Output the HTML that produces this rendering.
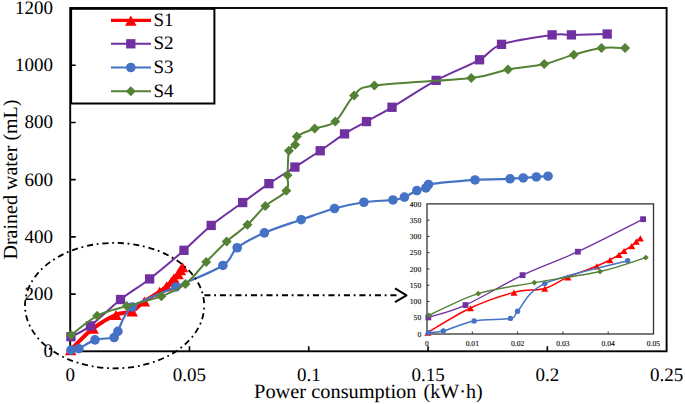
<!DOCTYPE html>
<html><head><meta charset="utf-8"><style>
html,body{margin:0;padding:0;background:#fff;}
body{width:685px;height:404px;overflow:hidden;}
svg{display:block;}
text{font-family:"Liberation Serif",serif;fill:#000;text-rendering:geometricPrecision;}
</style></head><body>
<svg width="685" height="404" viewBox="0 0 685 404">
<rect x="0" y="0" width="685" height="404" fill="#fff"/>

<rect x="70.2" y="8" width="596.4" height="343.3" fill="none" stroke="#000" stroke-width="1.9"/>
<path d="M70.2 294.08H75.7M70.2 236.87H75.7M70.2 179.65H75.7M70.2 122.43H75.7M70.2 65.22H75.7M189.48 351.3V346.3M308.76 351.3V346.3M428.04 351.3V346.3M547.32 351.3V346.3" stroke="#000" stroke-width="1.6" fill="none"/>
<text x="52.9" y="357.2" font-size="19" text-anchor="end">0</text>
<text x="52.9" y="299.98" font-size="19" text-anchor="end">200</text>
<text x="52.9" y="242.77" font-size="19" text-anchor="end">400</text>
<text x="52.9" y="185.55" font-size="19" text-anchor="end">600</text>
<text x="52.9" y="128.33" font-size="19" text-anchor="end">800</text>
<text x="52.9" y="71.12" font-size="19" text-anchor="end">1000</text>
<text x="52.9" y="13.9" font-size="19" text-anchor="end">1200</text>
<text x="70.2" y="380.7" font-size="19" text-anchor="middle">0</text>
<text x="189.48" y="380.7" font-size="19" text-anchor="middle">0.05</text>
<text x="308.76" y="380.7" font-size="19" text-anchor="middle">0.1</text>
<text x="428.04" y="380.7" font-size="19" text-anchor="middle">0.15</text>
<text x="547.32" y="380.7" font-size="19" text-anchor="middle">0.2</text>
<text x="666.6" y="380.7" font-size="19" text-anchor="middle">0.25</text>
<text x="254.1" y="397.6" font-size="20.3" textLength="162.4" lengthAdjust="spacingAndGlyphs">Power consumption</text>
<text x="423.6" y="397.6" font-size="20.3" textLength="59" lengthAdjust="spacingAndGlyphs">(kW&#183;h)</text>
<text transform="translate(17,259.5) rotate(-90)" x="0" y="0" font-size="20" textLength="160" lengthAdjust="spacingAndGlyphs">Drained water (mL)</text>
<path d="M70.68 349.87C74.41 346.29 85.55 334.28 93.1 328.41C100.66 322.55 109.48 317.54 116 314.68C122.52 311.82 127.49 313.49 132.23 311.25C136.96 309.01 139.82 304.53 144.39 301.24C148.96 297.95 155.96 294.04 159.66 291.51C163.36 288.98 164.63 287.74 166.58 286.07C168.53 284.4 170.12 282.83 171.35 281.5C172.58 280.16 172.86 279.35 173.97 278.06C175.09 276.78 176.96 275.15 178.03 273.77C179.1 272.39 179.66 270.91 180.41 269.77C181.17 268.62 182.2 267.38 182.56 266.91" fill="none" stroke="#FF0000" stroke-width="3.9" stroke-linejoin="round" stroke-linecap="round"/>
<path d="M70.68 345.11L76.43 355.23L64.93 355.23Z" fill="#FF0000"/>
<path d="M93.1 323.65L98.85 333.77L87.35 333.77Z" fill="#FF0000"/>
<path d="M116 309.92L121.75 320.04L110.25 320.04Z" fill="#FF0000"/>
<path d="M132.23 306.49L137.98 316.61L126.48 316.61Z" fill="#FF0000"/>
<path d="M144.39 296.48L150.14 306.6L138.64 306.6Z" fill="#FF0000"/>
<path d="M159.66 286.75L165.41 296.87L153.91 296.87Z" fill="#FF0000"/>
<path d="M166.58 281.31L172.33 291.43L160.83 291.43Z" fill="#FF0000"/>
<path d="M171.35 276.74L177.1 286.86L165.6 286.86Z" fill="#FF0000"/>
<path d="M173.97 273.3L179.72 283.42L168.22 283.42Z" fill="#FF0000"/>
<path d="M178.03 269.01L183.78 279.13L172.28 279.13Z" fill="#FF0000"/>
<path d="M180.41 265.01L186.16 275.13L174.66 275.13Z" fill="#FF0000"/>
<path d="M182.56 262.15L188.31 272.27L176.81 272.27Z" fill="#FF0000"/>
<path d="M70.92 336.71C74.18 334.9 82.21 332.04 90.48 325.84C98.75 319.64 110.68 307.34 120.54 299.52C130.4 291.7 139.06 287.12 149.64 278.92C160.22 270.72 173.74 259.23 183.99 250.31C194.25 241.4 201.41 233.39 211.19 225.42C220.97 217.46 233.06 209.5 242.68 202.54C252.3 195.58 260.21 189.57 268.92 183.66C277.63 177.74 286.38 172.55 294.92 167.06C303.47 161.58 311.94 156.29 320.21 150.76C328.48 145.22 336.83 138.74 344.54 133.88C352.26 129.01 358.58 126.01 366.49 121.58C374.4 117.14 380.41 114.14 392.02 107.27C403.63 100.4 421.56 88.29 436.15 80.38C450.74 72.46 468.67 65.79 479.57 59.78C490.46 53.77 489.43 48.48 501.52 44.33C513.6 40.18 540.44 36.47 552.09 34.89C563.74 33.32 562.23 35.03 571.41 34.89C580.6 34.75 601.23 34.18 607.2 34.03" fill="none" stroke="#7030A0" stroke-width="2.0" stroke-linejoin="round" stroke-linecap="round"/>
<rect x="66.27" y="332.06" width="9.3" height="9.3" fill="#7030A0"/>
<rect x="85.83" y="321.19" width="9.3" height="9.3" fill="#7030A0"/>
<rect x="115.89" y="294.87" width="9.3" height="9.3" fill="#7030A0"/>
<rect x="144.99" y="274.27" width="9.3" height="9.3" fill="#7030A0"/>
<rect x="179.34" y="245.66" width="9.3" height="9.3" fill="#7030A0"/>
<rect x="206.54" y="220.77" width="9.3" height="9.3" fill="#7030A0"/>
<rect x="238.03" y="197.89" width="9.3" height="9.3" fill="#7030A0"/>
<rect x="264.27" y="179.01" width="9.3" height="9.3" fill="#7030A0"/>
<rect x="290.27" y="162.41" width="9.3" height="9.3" fill="#7030A0"/>
<rect x="315.56" y="146.11" width="9.3" height="9.3" fill="#7030A0"/>
<rect x="339.89" y="129.23" width="9.3" height="9.3" fill="#7030A0"/>
<rect x="361.84" y="116.93" width="9.3" height="9.3" fill="#7030A0"/>
<rect x="387.37" y="102.62" width="9.3" height="9.3" fill="#7030A0"/>
<rect x="431.5" y="75.73" width="9.3" height="9.3" fill="#7030A0"/>
<rect x="474.92" y="55.13" width="9.3" height="9.3" fill="#7030A0"/>
<rect x="496.87" y="39.68" width="9.3" height="9.3" fill="#7030A0"/>
<rect x="547.44" y="30.24" width="9.3" height="9.3" fill="#7030A0"/>
<rect x="566.76" y="30.24" width="9.3" height="9.3" fill="#7030A0"/>
<rect x="602.55" y="29.38" width="9.3" height="9.3" fill="#7030A0"/>
<path d="M70.92 350.16C72.23 349.92 74.77 350.44 78.79 348.73C82.8 347.01 89.13 341.72 95.01 339.86C100.89 338 110.28 339 114.1 337.57C117.91 336.14 114.89 336.38 117.91 331.27C120.93 326.17 122.56 314.35 132.23 306.96C141.89 299.57 160.77 293.84 175.88 286.93C190.99 280.02 212.66 272.01 222.88 265.48C233.1 258.94 230.27 253.17 237.19 247.74C244.11 242.3 253.73 237.53 264.39 232.86C275.04 228.19 289.44 223.75 301.13 219.7C312.82 215.65 324.07 211.45 334.52 208.54C344.98 205.64 354.13 203.68 363.87 202.25C373.61 200.82 386.21 200.82 392.97 199.96C399.73 199.1 400.45 198.67 404.42 197.1C408.4 195.53 413.25 192.05 416.83 190.52C420.41 189 423.94 188.95 425.89 187.95C427.84 186.95 420.33 185.85 428.52 184.51C436.71 183.18 461.44 180.89 475.04 179.94C488.63 178.98 502.07 179.13 510.1 178.79C518.14 178.46 518.85 178.24 523.23 177.93C527.6 177.62 532.21 177.22 536.35 176.93C540.48 176.65 546.09 176.34 548.04 176.22" fill="none" stroke="#4472C4" stroke-width="2.2" stroke-linejoin="round" stroke-linecap="round"/>
<circle cx="70.92" cy="350.16" r="4.8" fill="#4472C4"/>
<circle cx="78.79" cy="348.73" r="4.8" fill="#4472C4"/>
<circle cx="95.01" cy="339.86" r="4.8" fill="#4472C4"/>
<circle cx="114.1" cy="337.57" r="4.8" fill="#4472C4"/>
<circle cx="117.91" cy="331.27" r="4.8" fill="#4472C4"/>
<circle cx="132.23" cy="306.96" r="4.8" fill="#4472C4"/>
<circle cx="175.88" cy="286.93" r="4.8" fill="#4472C4"/>
<circle cx="222.88" cy="265.48" r="4.8" fill="#4472C4"/>
<circle cx="237.19" cy="247.74" r="4.8" fill="#4472C4"/>
<circle cx="264.39" cy="232.86" r="4.8" fill="#4472C4"/>
<circle cx="301.13" cy="219.7" r="4.8" fill="#4472C4"/>
<circle cx="334.52" cy="208.54" r="4.8" fill="#4472C4"/>
<circle cx="363.87" cy="202.25" r="4.8" fill="#4472C4"/>
<circle cx="392.97" cy="199.96" r="4.8" fill="#4472C4"/>
<circle cx="404.42" cy="197.1" r="4.8" fill="#4472C4"/>
<circle cx="416.83" cy="190.52" r="4.8" fill="#4472C4"/>
<circle cx="425.89" cy="187.95" r="4.8" fill="#4472C4"/>
<circle cx="428.52" cy="184.51" r="4.8" fill="#4472C4"/>
<circle cx="475.04" cy="179.94" r="4.8" fill="#4472C4"/>
<circle cx="510.1" cy="178.79" r="4.8" fill="#4472C4"/>
<circle cx="523.23" cy="177.93" r="4.8" fill="#4472C4"/>
<circle cx="536.35" cy="176.93" r="4.8" fill="#4472C4"/>
<circle cx="548.04" cy="176.22" r="4.8" fill="#4472C4"/>
<path d="M71.15 334.99C75.49 331.8 87.89 320.64 97.16 315.83C106.42 311.01 116.04 309.34 126.74 306.1C137.43 302.86 151.55 300.04 161.33 296.37C171.11 292.7 177.95 289.79 185.42 284.07C192.9 278.35 199.3 269.15 206.18 262.04C213.06 254.94 219.82 247.64 226.7 241.44C233.57 235.25 241.01 230.76 247.45 224.85C253.89 218.94 258.86 211.64 265.34 205.97C271.82 200.3 282.64 195.91 286.34 190.81C290.03 185.71 287.09 182.03 287.53 175.36C287.97 168.68 287.69 155.86 288.96 150.76C290.23 145.65 293.85 147.13 295.16 144.75C296.47 142.36 293.57 139.17 296.83 136.45C300.09 133.73 308.32 130.92 314.72 128.44C321.13 125.96 328.68 127.06 335.24 121.58C341.8 116.09 347.57 101.55 354.09 95.54C360.61 89.53 354.84 88.44 374.36 85.53C393.89 82.62 448.95 80.76 471.22 78.09C493.48 75.42 495.79 71.84 507.96 69.51C520.12 67.17 533.24 66.55 544.22 64.07C555.19 61.59 564.26 57.3 573.8 54.63C583.34 51.96 592.92 49.15 601.47 48.05C610.02 46.96 621.15 48.05 625.09 48.05" fill="none" stroke="#548235" stroke-width="2.0" stroke-linejoin="round" stroke-linecap="round"/>
<path d="M71.15 329.99L76.15 334.99L71.15 339.99L66.15 334.99Z" fill="#548235"/>
<path d="M97.16 310.83L102.16 315.83L97.16 320.83L92.16 315.83Z" fill="#548235"/>
<path d="M126.74 301.1L131.74 306.1L126.74 311.1L121.74 306.1Z" fill="#548235"/>
<path d="M161.33 291.37L166.33 296.37L161.33 301.37L156.33 296.37Z" fill="#548235"/>
<path d="M185.42 279.07L190.42 284.07L185.42 289.07L180.42 284.07Z" fill="#548235"/>
<path d="M206.18 257.04L211.18 262.04L206.18 267.04L201.18 262.04Z" fill="#548235"/>
<path d="M226.7 236.44L231.7 241.44L226.7 246.44L221.7 241.44Z" fill="#548235"/>
<path d="M247.45 219.85L252.45 224.85L247.45 229.85L242.45 224.85Z" fill="#548235"/>
<path d="M265.34 200.97L270.34 205.97L265.34 210.97L260.34 205.97Z" fill="#548235"/>
<path d="M286.34 185.81L291.34 190.81L286.34 195.81L281.34 190.81Z" fill="#548235"/>
<path d="M287.53 170.36L292.53 175.36L287.53 180.36L282.53 175.36Z" fill="#548235"/>
<path d="M288.96 145.76L293.96 150.76L288.96 155.76L283.96 150.76Z" fill="#548235"/>
<path d="M295.16 139.75L300.16 144.75L295.16 149.75L290.16 144.75Z" fill="#548235"/>
<path d="M296.83 131.45L301.83 136.45L296.83 141.45L291.83 136.45Z" fill="#548235"/>
<path d="M314.72 123.44L319.72 128.44L314.72 133.44L309.72 128.44Z" fill="#548235"/>
<path d="M335.24 116.58L340.24 121.58L335.24 126.58L330.24 121.58Z" fill="#548235"/>
<path d="M354.09 90.54L359.09 95.54L354.09 100.54L349.09 95.54Z" fill="#548235"/>
<path d="M374.36 80.53L379.36 85.53L374.36 90.53L369.36 85.53Z" fill="#548235"/>
<path d="M471.22 73.09L476.22 78.09L471.22 83.09L466.22 78.09Z" fill="#548235"/>
<path d="M507.96 64.51L512.96 69.51L507.96 74.51L502.96 69.51Z" fill="#548235"/>
<path d="M544.22 59.07L549.22 64.07L544.22 69.07L539.22 64.07Z" fill="#548235"/>
<path d="M573.8 49.63L578.8 54.63L573.8 59.63L568.8 54.63Z" fill="#548235"/>
<path d="M601.47 43.05L606.47 48.05L601.47 53.05L596.47 48.05Z" fill="#548235"/>
<path d="M625.09 43.05L630.09 48.05L625.09 53.05L620.09 48.05Z" fill="#548235"/>
<rect x="71.1" y="8.8" width="143.3" height="94.7" fill="none" stroke="#000" stroke-width="2"/>
<path d="M111 20.3H151" stroke="#FF0000" stroke-width="3.2"/>
<path d="M130.8 15.54L136.55 25.66L125.05 25.66Z" fill="#FF0000"/>
<path d="M111 43.8H151" stroke="#7030A0" stroke-width="1.9"/>
<rect x="126.15" y="39.15" width="9.3" height="9.3" fill="#7030A0"/>
<path d="M111 67.5H151" stroke="#4472C4" stroke-width="1.9"/>
<circle cx="130.8" cy="67.5" r="4.8" fill="#4472C4"/>
<path d="M111 91.3H151" stroke="#548235" stroke-width="1.9"/>
<path d="M130.8 86.3L135.8 91.3L130.8 96.3L125.8 91.3Z" fill="#548235"/>
<text x="153.5" y="25.9" font-size="19" >S1</text>
<text x="153.5" y="49.4" font-size="19" >S2</text>
<text x="153.5" y="73.1" font-size="19" >S3</text>
<text x="153.5" y="96.9" font-size="19" >S4</text>
<ellipse cx="114.6" cy="305.6" rx="89.6" ry="62.7" fill="none" stroke="#000" stroke-width="1.8" stroke-dasharray="6.1 3.7 1.8 3.9" stroke-dashoffset="7.7"/>
<path d="M204.4 295.3H397" stroke="#000" stroke-width="2" stroke-dasharray="6.1 3.7 1.8 3.9"/>
<path d="M395 288.4L406.5 295.3L395 302.1" fill="none" stroke="#000" stroke-width="2" stroke-linejoin="round"/>
<rect x="427" y="203.9" width="226.5" height="130.1" fill="none" stroke="#333" stroke-width="1.3"/>
<path d="M427 317.74H429.5M427 301.48H429.5M427 285.21H429.5M427 268.95H429.5M427 252.69H429.5M427 236.43H429.5M427 220.16H429.5M472.3 334V331.5M517.6 334V331.5M562.9 334V331.5M608.2 334V331.5" stroke="#333" stroke-width="1" fill="none"/>
<path d="M427.91 332.37C435 328.31 456.14 314.65 470.49 307.98C484.83 301.31 501.59 295.62 513.98 292.37C526.36 289.12 535.8 291.01 544.78 288.47C553.76 285.92 559.2 280.82 567.88 277.08C576.57 273.34 589.85 268.9 596.88 266.02C603.9 263.15 606.31 261.74 610.01 259.84C613.71 257.95 616.73 256.16 619.07 254.64C621.41 253.12 621.94 252.2 624.05 250.74C626.17 249.27 629.72 247.43 631.76 245.86C633.79 244.29 634.85 242.6 636.29 241.3C637.72 240 639.68 238.59 640.36 238.05" fill="none" stroke="#FF0000" stroke-width="1.5" stroke-linejoin="round" stroke-linecap="round"/>
<path d="M427.91 329.59L431.41 335.75L424.41 335.75Z" fill="#FF0000"/>
<path d="M470.49 305.2L473.99 311.36L466.99 311.36Z" fill="#FF0000"/>
<path d="M513.98 289.59L517.48 295.75L510.48 295.75Z" fill="#FF0000"/>
<path d="M544.78 285.69L548.28 291.85L541.28 291.85Z" fill="#FF0000"/>
<path d="M567.88 274.3L571.38 280.46L564.38 280.46Z" fill="#FF0000"/>
<path d="M596.88 263.24L600.38 269.4L593.38 269.4Z" fill="#FF0000"/>
<path d="M610.01 257.06L613.51 263.22L606.51 263.22Z" fill="#FF0000"/>
<path d="M619.07 251.86L622.57 258.02L615.57 258.02Z" fill="#FF0000"/>
<path d="M624.05 247.96L627.55 254.12L620.55 254.12Z" fill="#FF0000"/>
<path d="M631.76 243.08L635.26 249.24L628.26 249.24Z" fill="#FF0000"/>
<path d="M636.29 238.52L639.79 244.68L632.79 244.68Z" fill="#FF0000"/>
<path d="M640.36 235.27L643.86 241.43L636.86 241.43Z" fill="#FF0000"/>
<path d="M428.36 317.41C434.55 315.35 449.8 312.1 465.5 305.05C481.21 298.01 503.86 284.02 522.58 275.13C541.31 266.24 557.77 261.04 577.85 251.71C597.93 242.39 632.21 224.61 643.08 219.19" fill="none" stroke="#7030A0" stroke-width="1.3" stroke-linejoin="round" stroke-linecap="round"/>
<rect x="425.46" y="314.51" width="5.8" height="5.8" fill="#7030A0"/>
<rect x="462.61" y="302.15" width="5.8" height="5.8" fill="#7030A0"/>
<rect x="519.68" y="272.23" width="5.8" height="5.8" fill="#7030A0"/>
<rect x="574.95" y="248.81" width="5.8" height="5.8" fill="#7030A0"/>
<rect x="640.18" y="216.29" width="5.8" height="5.8" fill="#7030A0"/>
<path d="M428.36 332.7C430.85 332.43 435.68 333.02 443.31 331.07C450.93 329.12 462.94 323.1 474.11 320.99C485.29 318.88 503.1 320.01 510.35 318.39C517.6 316.76 511.86 317.03 517.6 311.23C523.34 305.43 526.43 291.99 544.78 283.59C563.13 275.18 613.86 264.61 627.68 260.82" fill="none" stroke="#4472C4" stroke-width="1.5" stroke-linejoin="round" stroke-linecap="round"/>
<circle cx="428.36" cy="332.7" r="2.7" fill="#4472C4"/>
<circle cx="443.31" cy="331.07" r="2.7" fill="#4472C4"/>
<circle cx="474.11" cy="320.99" r="2.7" fill="#4472C4"/>
<circle cx="510.35" cy="318.39" r="2.7" fill="#4472C4"/>
<circle cx="517.6" cy="311.23" r="2.7" fill="#4472C4"/>
<circle cx="544.78" cy="283.59" r="2.7" fill="#4472C4"/>
<circle cx="627.68" cy="260.82" r="2.7" fill="#4472C4"/>
<path d="M428.81 315.46C437.04 311.83 460.6 299.14 478.19 293.67C495.78 288.19 514.05 286.3 534.36 282.61C554.67 278.92 581.47 275.73 600.05 271.55C618.62 267.38 638.17 259.9 645.8 257.57" fill="none" stroke="#548235" stroke-width="1.4" stroke-linejoin="round" stroke-linecap="round"/>
<path d="M428.81 312.56L431.71 315.46L428.81 318.36L425.91 315.46Z" fill="#548235"/>
<path d="M478.19 290.77L481.09 293.67L478.19 296.57L475.29 293.67Z" fill="#548235"/>
<path d="M534.36 279.71L537.26 282.61L534.36 285.51L531.46 282.61Z" fill="#548235"/>
<path d="M600.05 268.65L602.95 271.55L600.05 274.45L597.15 271.55Z" fill="#548235"/>
<path d="M645.8 254.67L648.7 257.57L645.8 260.47L642.9 257.57Z" fill="#548235"/>
<text x="421.2" y="336.6" font-size="7.6" text-anchor="end" stroke="#000" stroke-width="0.1">0</text>
<text x="421.2" y="320.34" font-size="7.6" text-anchor="end" stroke="#000" stroke-width="0.1">50</text>
<text x="421.2" y="304.08" font-size="7.6" text-anchor="end" stroke="#000" stroke-width="0.1">100</text>
<text x="421.2" y="287.81" font-size="7.6" text-anchor="end" stroke="#000" stroke-width="0.1">150</text>
<text x="421.2" y="271.55" font-size="7.6" text-anchor="end" stroke="#000" stroke-width="0.1">200</text>
<text x="421.2" y="255.29" font-size="7.6" text-anchor="end" stroke="#000" stroke-width="0.1">250</text>
<text x="421.2" y="239.03" font-size="7.6" text-anchor="end" stroke="#000" stroke-width="0.1">300</text>
<text x="421.2" y="222.76" font-size="7.6" text-anchor="end" stroke="#000" stroke-width="0.1">350</text>
<text x="421.2" y="206.5" font-size="7.6" text-anchor="end" stroke="#000" stroke-width="0.1">400</text>
<text x="427" y="345.6" font-size="7.6" text-anchor="middle" stroke="#000" stroke-width="0.1">0</text>
<text x="472.3" y="345.6" font-size="7.6" text-anchor="middle" stroke="#000" stroke-width="0.1">0.01</text>
<text x="517.6" y="345.6" font-size="7.6" text-anchor="middle" stroke="#000" stroke-width="0.1">0.02</text>
<text x="562.9" y="345.6" font-size="7.6" text-anchor="middle" stroke="#000" stroke-width="0.1">0.03</text>
<text x="608.2" y="345.6" font-size="7.6" text-anchor="middle" stroke="#000" stroke-width="0.1">0.04</text>
<text x="653.5" y="345.6" font-size="7.6" text-anchor="middle" stroke="#000" stroke-width="0.1">0.05</text>
</svg>
</body></html>
